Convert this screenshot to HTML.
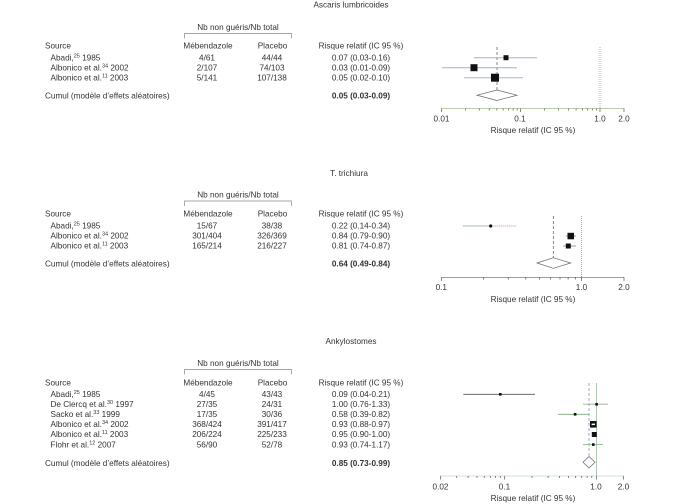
<!DOCTYPE html>
<html><head><meta charset="utf-8">
<style>
html,body{margin:0;padding:0;background:#fff;}
svg{display:block;}
text{font-family:"Liberation Sans",Arial,sans-serif;font-size:8.2px;fill:#333;}
.b{font-weight:bold;}
.m{text-anchor:middle;}
.s{font-size:5.5px;}
</style></head><body>
<svg width="675" height="504" viewBox="0 0 675 504" xmlns="http://www.w3.org/2000/svg">
<rect width="675" height="504" fill="#fff"/>

<!-- ============ PANEL 1 : Ascaris ============ -->
<text class="m" x="351" y="7.5">Ascaris lumbricoides</text>
<text class="m" x="238" y="30">Nb non guéris/Nb total</text>
<path d="M184.5 38.5 V33.5 H291.5 V38.5" fill="none" stroke="#888" stroke-width="0.7"/>
<text x="45" y="48.5">Source</text>
<text class="m" x="208" y="48.5">Mébendazole</text>
<text class="m" x="272.5" y="48.5">Placebo</text>
<text class="m" x="361" y="48.5">Risque relatif (IC 95 %)</text>

<text x="50.5" y="60.5">Abadi,<tspan class="s" dy="-3">25</tspan><tspan dy="3"> 1985</tspan></text>
<text class="m" x="207" y="60.5">4/61</text>
<text class="m" x="272" y="60.5">44/44</text>
<text class="m" x="361" y="60.5">0.07 (0.03-0.16)</text>

<text x="50.5" y="70.5">Albonico et al.<tspan class="s" dy="-3">34</tspan><tspan dy="3"> 2002</tspan></text>
<text class="m" x="207" y="70.5">2/107</text>
<text class="m" x="272" y="70.5">74/103</text>
<text class="m" x="361" y="70.5">0.03 (0.01-0.09)</text>

<text x="50.5" y="80.5">Albonico et al.<tspan class="s" dy="-3">11</tspan><tspan dy="3"> 2003</tspan></text>
<text class="m" x="207" y="80.5">5/141</text>
<text class="m" x="272" y="80.5">107/138</text>
<text class="m" x="361" y="80.5">0.05 (0.02-0.10)</text>

<text x="45" y="98.5">Cumul (modèle d’effets aléatoires)</text>
<text class="m b" x="361" y="98.5">0.05 (0.03-0.09)</text>

<!-- plot 1 -->
<line x1="600" y1="47" x2="600" y2="108.5" stroke="#999" stroke-width="0.8" stroke-dasharray="1 1"/>
<line x1="497" y1="47" x2="497" y2="90" stroke="#555" stroke-width="0.7" stroke-dasharray="3 2"/>
<line x1="474" y1="57.7" x2="537" y2="57.7" stroke="#9fb0d8" stroke-width="1"/>
<rect x="503.5" y="55.2" width="5" height="5" fill="#111"/>
<line x1="442" y1="67.7" x2="517" y2="67.7" stroke="#9fb0d8" stroke-width="1"/>
<rect x="470.5" y="64.2" width="7" height="7" fill="#111"/>
<line x1="464" y1="77.7" x2="523" y2="77.7" stroke="#a8b4d0" stroke-width="1"/>
<rect x="491" y="73.7" width="8" height="8" fill="#111"/>
<polygon points="477,95.2 497,90 517,95.2 497,100.5" fill="#fff" stroke="#666" stroke-width="0.7"/>
<line x1="441.5" y1="108.5" x2="624" y2="108.5" stroke="#9c9" stroke-width="0.8"/>
<line x1="441.5" y1="108.5" x2="624" y2="108.5" stroke="#d99" stroke-width="0.8" stroke-dasharray="1 3"/>
<g stroke="#555" stroke-width="0.7">
<line x1="441.5" y1="108.5" x2="441.5" y2="112"/>
<line x1="465.4" y1="108.5" x2="465.4" y2="110.5"/>
<line x1="479.3" y1="108.5" x2="479.3" y2="110.5"/>
<line x1="489.2" y1="108.5" x2="489.2" y2="110.5"/>
<line x1="496.9" y1="108.5" x2="496.9" y2="110.5"/>
<line x1="503.2" y1="108.5" x2="503.2" y2="110.5"/>
<line x1="508.5" y1="108.5" x2="508.5" y2="110.5"/>
<line x1="513.1" y1="108.5" x2="513.1" y2="110.5"/>
<line x1="517.1" y1="108.5" x2="517.1" y2="110.5"/>
<line x1="520.5" y1="108.5" x2="520.5" y2="112"/>
<line x1="544.6" y1="108.5" x2="544.6" y2="110.5"/>
<line x1="558.5" y1="108.5" x2="558.5" y2="110.5"/>
<line x1="568.4" y1="108.5" x2="568.4" y2="110.5"/>
<line x1="576.1" y1="108.5" x2="576.1" y2="110.5"/>
<line x1="582.4" y1="108.5" x2="582.4" y2="110.5"/>
<line x1="587.7" y1="108.5" x2="587.7" y2="110.5"/>
<line x1="592.3" y1="108.5" x2="592.3" y2="110.5"/>
<line x1="596.4" y1="108.5" x2="596.4" y2="110.5"/>
<line x1="600" y1="108.5" x2="600" y2="112"/>
<line x1="624" y1="108.5" x2="624" y2="112"/>
</g>
<text class="m" x="441.5" y="121.5">0.01</text>
<text class="m" x="520" y="121.5">0.1</text>
<text class="m" x="600" y="121.5">1.0</text>
<text class="m" x="624" y="121.5">2.0</text>
<text class="m" x="533" y="133">Risque relatif (IC 95 %)</text>

<!-- ============ PANEL 2 : T. trichiura ============ -->
<text class="m" x="349" y="176">T. trichiura</text>
<text class="m" x="238" y="197.5">Nb non guéris/Nb total</text>
<path d="M184.5 206 V201 H291.5 V206" fill="none" stroke="#888" stroke-width="0.7"/>
<text x="45" y="216.5">Source</text>
<text class="m" x="208" y="216.5">Mébendazole</text>
<text class="m" x="272.5" y="216.5">Placebo</text>
<text class="m" x="361" y="216.5">Risque relatif (IC 95 %)</text>

<text x="50.5" y="228.5">Abadi,<tspan class="s" dy="-3">25</tspan><tspan dy="3"> 1985</tspan></text>
<text class="m" x="207" y="228.5">15/67</text>
<text class="m" x="272" y="228.5">38/38</text>
<text class="m" x="361" y="228.5">0.22 (0.14-0.34)</text>

<text x="50.5" y="238.5">Albonico et al.<tspan class="s" dy="-3">34</tspan><tspan dy="3"> 2002</tspan></text>
<text class="m" x="207" y="238.5">301/404</text>
<text class="m" x="272" y="238.5">326/369</text>
<text class="m" x="361" y="238.5">0.84 (0.79-0.90)</text>

<text x="50.5" y="248.5">Albonico et al.<tspan class="s" dy="-3">11</tspan><tspan dy="3"> 2003</tspan></text>
<text class="m" x="207" y="248.5">165/214</text>
<text class="m" x="272" y="248.5">216/227</text>
<text class="m" x="361" y="248.5">0.81 (0.74-0.87)</text>

<text x="45" y="266.5">Cumul (modèle d’effets aléatoires)</text>
<text class="m b" x="361" y="266.5">0.64 (0.49-0.84)</text>

<!-- plot 2 -->
<line x1="581.5" y1="216" x2="581.5" y2="277.3" stroke="#999" stroke-width="0.8" stroke-dasharray="1 1"/>
<line x1="553.3" y1="216" x2="553.3" y2="258" stroke="#555" stroke-width="0.7" stroke-dasharray="3 2"/>
<line x1="462.7" y1="226" x2="490.7" y2="226" stroke="#a9bba9" stroke-width="1"/>
<line x1="490.7" y1="226" x2="516.7" y2="226" stroke="#d88" stroke-width="1" stroke-dasharray="1 1"/>
<circle cx="490.7" cy="226" r="1.6" fill="#111"/>
<line x1="566" y1="236" x2="576" y2="236" stroke="#999" stroke-width="1"/>
<rect x="567.5" y="232.8" width="6.5" height="6.5" fill="#111"/>
<line x1="563" y1="246" x2="576" y2="246" stroke="#999" stroke-width="1"/>
<rect x="565.8" y="243.5" width="5" height="5" fill="#111"/>
<polygon points="537,263 553.3,257.7 570.7,263 553.3,268.3" fill="#fff" stroke="#666" stroke-width="0.7"/>
<line x1="441.3" y1="277.3" x2="624" y2="277.3" stroke="#666" stroke-width="0.7"/>
<g stroke="#555" stroke-width="0.7">
<line x1="441.3" y1="277.3" x2="441.3" y2="281"/>
<line x1="483.6" y1="277.3" x2="483.6" y2="279.5"/>
<line x1="508.3" y1="277.3" x2="508.3" y2="279.5"/>
<line x1="525.8" y1="277.3" x2="525.8" y2="279.5"/>
<line x1="539.4" y1="277.3" x2="539.4" y2="279.5"/>
<line x1="550.5" y1="277.3" x2="550.5" y2="279.5"/>
<line x1="560" y1="277.3" x2="560" y2="279.5"/>
<line x1="568.1" y1="277.3" x2="568.1" y2="279.5"/>
<line x1="575.3" y1="277.3" x2="575.3" y2="279.5"/>
<line x1="581.5" y1="277.3" x2="581.5" y2="281"/>
<line x1="624" y1="277.3" x2="624" y2="281"/>
</g>
<text class="m" x="441.3" y="290">0.1</text>
<text class="m" x="581.5" y="290">1.0</text>
<text class="m" x="624" y="290">2.0</text>
<text class="m" x="533" y="302">Risque relatif (IC 95 %)</text>

<!-- ============ PANEL 3 : Ankylostomes ============ -->
<text class="m" x="351" y="344">Ankylostomes</text>
<text class="m" x="238" y="366">Nb non guéris/Nb total</text>
<path d="M184.5 374.5 V369.5 H291.5 V374.5" fill="none" stroke="#888" stroke-width="0.7"/>
<text x="45" y="385.5">Source</text>
<text class="m" x="208" y="385.5">Mébendazole</text>
<text class="m" x="272.5" y="385.5">Placebo</text>
<text class="m" x="361" y="385.5">Risque relatif (IC 95 %)</text>

<text x="50.5" y="397">Abadi,<tspan class="s" dy="-3">25</tspan><tspan dy="3"> 1985</tspan></text>
<text class="m" x="207" y="397">4/45</text>
<text class="m" x="272" y="397">43/43</text>
<text class="m" x="361" y="397">0.09 (0.04-0.21)</text>

<text x="50.5" y="407">De Clercq et al.<tspan class="s" dy="-3">30</tspan><tspan dy="3"> 1997</tspan></text>
<text class="m" x="207" y="407">27/35</text>
<text class="m" x="272" y="407">24/31</text>
<text class="m" x="361" y="407">1.00 (0.76-1.33)</text>

<text x="50.5" y="417">Sacko et al.<tspan class="s" dy="-3">33</tspan><tspan dy="3"> 1999</tspan></text>
<text class="m" x="207" y="417">17/35</text>
<text class="m" x="272" y="417">30/36</text>
<text class="m" x="361" y="417">0.58 (0.39-0.82)</text>

<text x="50.5" y="427">Albonico et al.<tspan class="s" dy="-3">34</tspan><tspan dy="3"> 2002</tspan></text>
<text class="m" x="207" y="427">368/424</text>
<text class="m" x="272" y="427">391/417</text>
<text class="m" x="361" y="427">0.93 (0.88-0.97)</text>

<text x="50.5" y="437.2">Albonico et al.<tspan class="s" dy="-3">11</tspan><tspan dy="3"> 2003</tspan></text>
<text class="m" x="207" y="437.2">206/224</text>
<text class="m" x="272" y="437.2">225/233</text>
<text class="m" x="361" y="437.2">0.95 (0.90-1.00)</text>

<text x="50.5" y="447.4">Flohr et al.<tspan class="s" dy="-3">12</tspan><tspan dy="3"> 2007</tspan></text>
<text class="m" x="207" y="447.4">56/90</text>
<text class="m" x="272" y="447.4">52/78</text>
<text class="m" x="361" y="447.4">0.93 (0.74-1.17)</text>

<text x="45" y="466">Cumul (modèle d’effets aléatoires)</text>
<text class="m b" x="361" y="466">0.85 (0.73-0.99)</text>

<!-- plot 3 -->
<line x1="596.5" y1="383" x2="596.5" y2="476" stroke="#a9c0a9" stroke-width="0.9"/>
<line x1="589" y1="383" x2="589" y2="456.5" stroke="#6f7fc0" stroke-width="0.7" stroke-dasharray="3 2"/>
<line x1="463.3" y1="394.3" x2="535" y2="394.3" stroke="#555" stroke-width="0.8"/>
<rect x="499" y="393" width="2.6" height="2.6" fill="#111"/>
<line x1="583" y1="404.2" x2="608" y2="404.2" stroke="#9a9" stroke-width="0.9"/>
<rect x="595.3" y="403" width="2.6" height="2.6" fill="#111"/>
<line x1="558" y1="414.3" x2="589" y2="414.3" stroke="#7aa97a" stroke-width="0.9"/>
<rect x="573.8" y="413" width="2.6" height="2.6" fill="#111"/>
<rect x="590" y="421" width="6.6" height="6.6" fill="#111"/>
<rect x="591.6" y="423.6" width="3.4" height="1.5" fill="#fff"/>
<rect x="591.8" y="432" width="5" height="5" fill="#111"/>
<line x1="583" y1="444.6" x2="603" y2="444.6" stroke="#8b8" stroke-width="0.9"/>
<rect x="592" y="443.3" width="2.6" height="2.6" fill="#111"/>
<polygon points="583,462.2 589,456.5 595,462.2 589,468" fill="#fff" stroke="#666" stroke-width="0.7"/>
<line x1="440.5" y1="476" x2="623.5" y2="476" stroke="#8aa" stroke-width="0.8" stroke-dasharray="1 1"/>
<g stroke="#555" stroke-width="0.7">
<line x1="440.5" y1="476" x2="440.5" y2="479.5"/>
<line x1="456.7" y1="476" x2="456.7" y2="478"/>
<line x1="468.1" y1="476" x2="468.1" y2="478"/>
<line x1="477" y1="476" x2="477" y2="478"/>
<line x1="484.2" y1="476" x2="484.2" y2="478"/>
<line x1="490.3" y1="476" x2="490.3" y2="478"/>
<line x1="495.6" y1="476" x2="495.6" y2="478"/>
<line x1="500.3" y1="476" x2="500.3" y2="478"/>
<line x1="504.5" y1="476" x2="504.5" y2="479.5"/>
<line x1="532" y1="476" x2="532" y2="478"/>
<line x1="548.1" y1="476" x2="548.1" y2="478"/>
<line x1="559.6" y1="476" x2="559.6" y2="478"/>
<line x1="568.5" y1="476" x2="568.5" y2="478"/>
<line x1="575.7" y1="476" x2="575.7" y2="478"/>
<line x1="581.8" y1="476" x2="581.8" y2="478"/>
<line x1="587.1" y1="476" x2="587.1" y2="478"/>
<line x1="591.8" y1="476" x2="591.8" y2="478"/>
<line x1="596.5" y1="476" x2="596.5" y2="479.5"/>
<line x1="623.5" y1="476" x2="623.5" y2="479.5"/>
</g>
<text class="m" x="440.5" y="489.5">0.02</text>
<text class="m" x="504.5" y="489.5">0.1</text>
<text class="m" x="596" y="489.5">1.0</text>
<text class="m" x="623.5" y="489.5">2.0</text>
<text class="m" x="533" y="501">Risque relatif (IC 95 %)</text>
</svg>
</body></html>
